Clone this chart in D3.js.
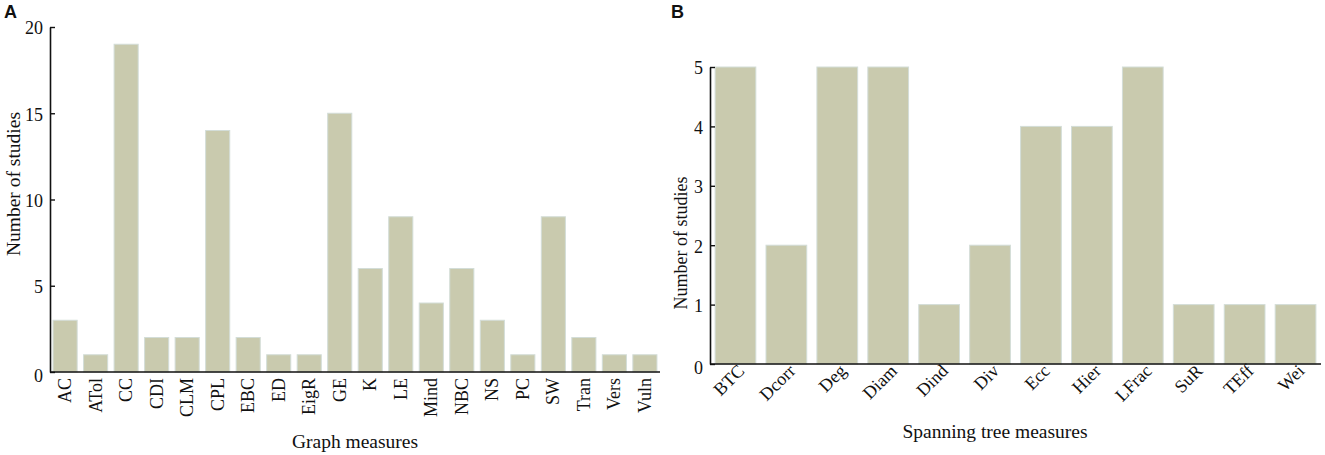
<!DOCTYPE html>
<html>
<head>
<meta charset="utf-8">
<script src="https://cdn.jsdelivr.net/npm/d3@7"></script>
<style>
    body { margin: 0; background: #fff; }
    svg text { font-family: "Liberation Serif", "Times New Roman", serif; fill: #111; }
    .panel-tag { font-family: "Liberation Sans", Arial, sans-serif !important; font-weight: bold; }
    .axis path, .axis line { stroke: #111; }
</style>
</head>
<body>
<div id="chart"></div>
<script>

// panel A
const graphMeasures = ["AC", "ATol", "CC", "CDI", "CLM", "CPL", "EBC", "ED", "EigR", "GE", "K", "LE",
    "Mind", "NBC", "NS", "PC", "SW", "Tran", "Vers", "Vuln"];
const graphCounts = [3, 1, 19, 2, 2, 14, 2, 1, 1, 15, 6, 9, 4, 6, 3, 1, 9, 2, 1, 1];
const graphTicks = [0, 5, 10, 15, 20];

// panel B
const treeMeasures = ["BTC", "Dcorr", "Deg", "Diam", "Dind", "Div", "Ecc", "Hier", "LFrac", "SuR", "TEff", "Wei"];
const treeCounts = [5, 2, 5, 5, 1, 2, 4, 4, 5, 1, 1, 1];
const treeTicks = [0, 1, 2, 3, 4, 5];

const barFill = "#c9caae";
const barStroke = "#d3ddd8";

const svg = d3.select("#chart").append("svg")
    .attr("width", 1325)
    .attr("height", 455);

function drawPanel(opts) {
    let g = svg.append("g");

    let x = d3.scaleBand()
        .domain(opts.cats)
        .range([opts.x0, opts.x1])
        .paddingInner(opts.padIn)
        .paddingOuter(opts.padOut);

    let y = d3.scaleLinear()
        .domain([0, opts.yMax])
        .range([opts.y0, opts.y1]);

    g.selectAll(".bar")
        .data(opts.cats)
        .enter().append("rect")
        .attr("class", "bar")
        .attr("x", d => x(d))
        .attr("width", x.bandwidth())
        .attr("y", (d, i) => y(opts.vals[i]))
        .attr("height", (d, i) => y(0) - y(opts.vals[i]))
        .attr("fill", barFill)
        .attr("stroke", barStroke)
        .attr("stroke-width", 1);

    // y axis, ticks pointing inward
    let yAxis = d3.axisLeft(y)
        .tickValues(opts.ticks)
        .tickFormat(d3.format("d"))
        .tickSizeInner(-5)
        .tickSizeOuter(0)
        .tickPadding(7);

    let ya = g.append("g")
        .attr("class", "axis")
        .attr("transform", `translate(${opts.x0},0)`)
        .call(yAxis);
    ya.select(".domain").attr("stroke-width", 1.6);
    ya.selectAll("line").attr("stroke-width", 1.4);
    ya.selectAll("text").style("font-size", "18px")
        .attr("dy", d => d === 0 ? "0.55em" : "0.38em");

    // x baseline
    g.append("line")
        .attr("x1", opts.x0)
        .attr("x2", opts.x1)
        .attr("y1", y(0))
        .attr("y2", y(0))
        .attr("stroke", "#111")
        .attr("stroke-width", 1.6);

    // category labels
    g.selectAll(".xlab")
        .data(opts.cats)
        .enter().append("text")
        .attr("class", "xlab")
        .attr("text-anchor", "end")
        .style("font-size", "18px")
        .attr("transform", d => {
            let cx = x(d) + x.bandwidth() / 2;
            if (opts.angle === -90) {
                return `translate(${cx + 6},${y(0) + 6}) rotate(-90)`;
            }
            return `translate(${cx + 10},${y(0) + 8}) rotate(-45)`;
        })
        .text(d => d);

    g.append("text")
        .attr("x", opts.titleX)
        .attr("y", opts.titleY)
        .attr("text-anchor", "middle")
        .style("font-size", "19.5px")
        .text(opts.xTitle);

    g.append("text")
        .attr("transform", `translate(${opts.yTitleX},${opts.yTitleY}) rotate(-90)`)
        .attr("text-anchor", "middle")
        .style("font-size", opts.yTitleSize)
        .text("Number of studies");

    g.append("text")
        .attr("class", "panel-tag")
        .attr("x", opts.tagX)
        .attr("y", 18)
        .style("font-size", "18px")
        .text(opts.tag);
}

drawPanel({
    cats: graphMeasures, vals: graphCounts, ticks: graphTicks, yMax: 20,
    x0: 50, x1: 660, y0: 372, y1: 27, padIn: 0.21, padOut: 0.1,
    angle: -90, xTitle: "Graph measures", titleX: 355, titleY: 448,
    yTitleX: 20, yTitleY: 184, yTitleSize: "19.5px", tag: "A", tagX: 4
});

drawPanel({
    cats: treeMeasures, vals: treeCounts, ticks: treeTicks, yMax: 5,
    x0: 710, x1: 1321, y0: 364, y1: 67, padIn: 0.2, padOut: 0.1,
    angle: -45, xTitle: "Spanning tree measures", titleX: 995, titleY: 438,
    yTitleX: 687, yTitleY: 243, yTitleSize: "18px", tag: "B", tagX: 671
});

</script>
</body>
</html>
